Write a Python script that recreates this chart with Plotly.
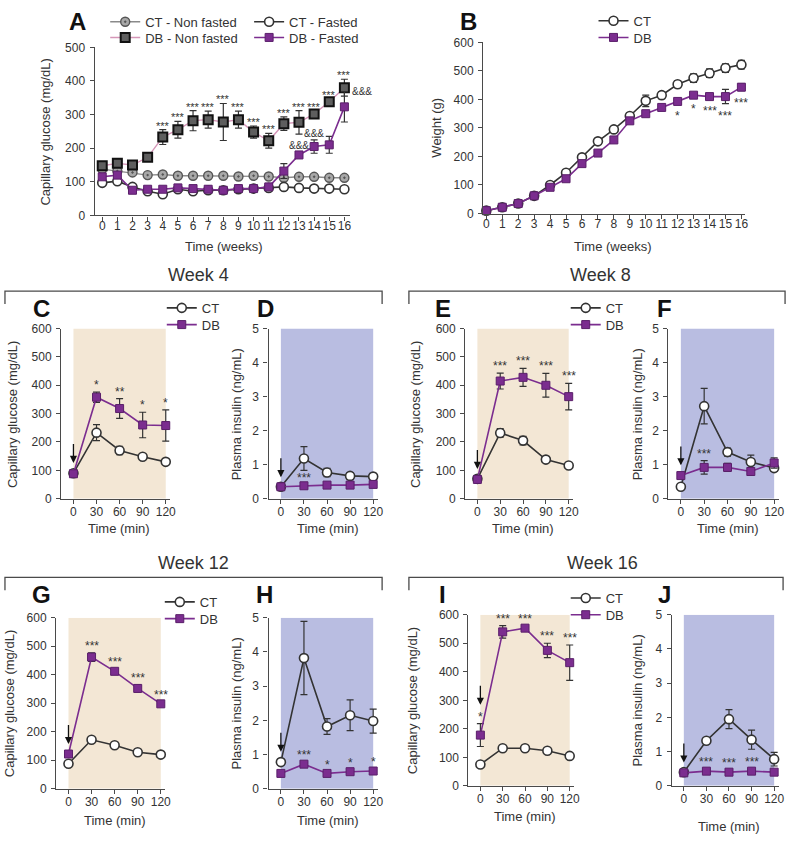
import plotly.graph_objects as go

# ---------------- data ----------------
weeks = list(range(17))
week_ticks = [str(w) for w in weeks]

# Panel A: capillary glucose (mg/dL) over 16 weeks
a_ct_nf = [138, 132, 128, 120, 122, 118, 118, 118, 118, 116, 118, 116, 112, 115, 115, 112, 112]
a_ct_nf_err = [6, 6, 5, 4, 4, 4, 4, 4, 4, 4, 4, 4, 4, 4, 4, 4, 4]
a_ct_f = [97, 102, 85, 72, 63, 78, 72, 75, 75, 78, 80, 82, 85, 82, 80, 80, 78]
a_ct_f_err = [5, 5, 4, 4, 4, 4, 4, 4, 4, 4, 4, 4, 4, 4, 4, 4, 4]
a_db_nf = [148, 155, 150, 173, 233, 255, 282, 285, 278, 285, 248, 222, 273, 277, 302, 338, 380]
a_db_nf_err = [8, 8, 8, 8, 22, 25, 30, 25, 55, 25, 18, 22, 20, 35, 8, 8, 25]
a_db_f = [115, 120, 75, 78, 78, 82, 80, 78, 75, 80, 80, 85, 132, 180, 205, 210, 323]
a_db_f_err = [8, 8, 4, 4, 4, 4, 4, 4, 4, 4, 4, 4, 22, 8, 20, 25, 45]
a_stars = ["", "", "", "", "***", "***", "***", "***", "***", "***", "***", "***", "***", "***", "***", "***", "***"]
a_amps = ["", "", "", "", "", "", "", "", "", "", "", "", "", "&&&", "&&&", "", "&&&"]

# Panel B: weight (g)
b_ct = [10, 22, 35, 62, 100, 143, 197, 253, 295, 342, 395, 415, 453, 475, 492, 510, 522]
b_ct_err = [3, 3, 3, 3, 4, 5, 6, 6, 6, 8, 20, 12, 12, 15, 15, 15, 15]
b_db = [10, 22, 35, 62, 92, 122, 175, 212, 258, 325, 350, 372, 393, 415, 410, 410, 443]
b_db_err = [3, 3, 3, 3, 4, 5, 6, 6, 6, 8, 8, 8, 8, 8, 8, 25, 12]
b_stars = ["", "", "", "", "", "", "", "", "", "", "", "", "*", "*", "***", "***", "***"]

# OGTT panels
ogtt_time = [0, 30, 60, 90, 120]
ogtt_ticks = ["0", "30", "60", "90", "120"]

c_ct = [90, 233, 170, 148, 130]
c_ct_err = [5, 28, 15, 5, 5]
c_db = [88, 358, 318, 260, 258]
c_db_err = [8, 18, 35, 45, 55]
c_stars = ["", "*", "**", "*", "*"]

d_ct = [0.35, 1.18, 0.77, 0.67, 0.65]
d_ct_err = [0.03, 0.35, 0.12, 0.10, 0.05]
d_db = [0.35, 0.38, 0.40, 0.40, 0.42]
d_db_err = [0.03, 0.03, 0.03, 0.03, 0.03]
d_stars = ["", "***", "", "", ""]

e_ct = [70, 232, 205, 138, 117]
e_ct_err = [5, 15, 15, 5, 5]
e_db = [68, 415, 428, 400, 360]
e_db_err = [5, 28, 32, 42, 47]
e_stars = ["", "***", "***", "***", "***"]

f_ct = [0.35, 2.72, 1.37, 1.08, 0.90]
f_ct_err = [0.05, 0.52, 0.12, 0.20, 0.10]
f_db = [0.68, 0.92, 0.92, 0.80, 1.05]
f_db_err = [0.05, 0.20, 0.12, 0.05, 0.15]
f_stars = ["", "***", "", "", ""]

g_ct = [88, 172, 153, 128, 120]
g_ct_err = [5, 5, 8, 5, 5]
g_db = [122, 462, 412, 352, 298]
g_db_err = [5, 15, 8, 12, 5]
g_stars = ["", "***", "***", "***", "***"]

h_ct = [0.78, 3.82, 1.82, 2.15, 1.98]
h_ct_err = [0.05, 1.07, 0.23, 0.45, 0.35]
h_db = [0.45, 0.72, 0.45, 0.50, 0.52]
h_db_err = [0.05, 0.05, 0.05, 0.05, 0.05]
h_stars = ["", "***", "*", "*", "*"]

i_ct = [75, 132, 132, 123, 105]
i_ct_err = [5, 5, 5, 5, 8]
i_db = [178, 540, 553, 475, 432]
i_db_err = [40, 22, 8, 25, 62]
i_stars = ["*", "***", "***", "***", "***"]

j_ct = [0.40, 1.32, 1.95, 1.35, 0.78]
j_ct_err = [0.03, 0.05, 0.28, 0.28, 0.20]
j_db = [0.38, 0.43, 0.40, 0.43, 0.40]
j_db_err = [0.05, 0.05, 0.05, 0.05, 0.05]
j_stars = ["", "***", "***", "***", ""]

glucose_ticks = [0, 100, 200, 300, 400, 500, 600]
glucose_a_ticks = [0, 100, 200, 300, 400, 500]
insulin_ticks = [0, 1, 2, 3, 4, 5]

# ---------------- styling ----------------
W, H = 800, 844
FONT = "Arial, Liberation Sans, Helvetica, sans-serif"
DARK = "#333333"
AXIS = "#4a4a4a"
PURPLE = "#7b2d8f"
BEIGE = "#f3e7d5"
LAVENDER = "#b9bde1"

fig = go.Figure()
layout = {}


def ax_id(n):
    return "" if n == 1 else str(n)


def add_axes(n, xcal, ycal, xrange, yrange, xticks, xticktext, yticks, xstand):
    (xv0, xp0), (xv1, xp1) = xcal
    (yv0, yp0), (yv1, yp1) = ycal
    sx = (xp1 - xp0) / (xv1 - xv0)
    sy = (yp0 - yp1) / (yv1 - yv0)
    left = xp0 + (xrange[0] - xv0) * sx
    right = xp0 + (xrange[1] - xv0) * sx
    bottom = yp0 - (yrange[0] - yv0) * sy
    top = yp0 - (yrange[1] - yv0) * sy
    common = dict(showline=True, linecolor=AXIS, linewidth=1.3, ticks="outside",
                  ticklen=4, tickwidth=1.2, tickcolor=AXIS, showgrid=False,
                  zeroline=False, tickfont=dict(size=12, color=DARK, family=FONT),
                  fixedrange=True, tickangle=0)
    layout["xaxis" + ax_id(n)] = dict(common, domain=[left / W, right / W], range=xrange,
                                      anchor="y" + ax_id(n), tickvals=xticks,
                                      ticktext=xticktext, ticklabelstandoff=xstand)
    layout["yaxis" + ax_id(n)] = dict(common, domain=[1 - bottom / H, 1 - top / H],
                                      range=yrange, anchor="x" + ax_id(n), tickvals=yticks,
                                      ticklabelstandoff=2)


legend_count = [0]


def new_legend(xpx, ypx):
    legend_count[0] += 1
    k = legend_count[0]
    name = "legend" if k == 1 else f"legend{k}"
    layout[name] = dict(x=xpx / W, y=1 - ypx / H, xanchor="left", yanchor="middle",
                        bgcolor="rgba(0,0,0,0)", borderwidth=0, itemwidth=30,
                        font=dict(size=13, color=DARK, family=FONT),
                        itemclick=False, itemdoubleclick=False)
    return name


def trace(n, x, y, err, name, line, marker, legend_pos=None):
    kw = {}
    if legend_pos is not None:
        kw["legend"] = new_legend(*legend_pos)
        kw["showlegend"] = True
    else:
        kw["showlegend"] = False
    fig.add_trace(go.Scatter(
        x=x, y=y, name=name, mode="lines+markers",
        line=line, marker=marker, cliponaxis=False,
        error_y=dict(type="data", array=err, visible=True, color=DARK,
                     thickness=1.2, width=3.5),
        xaxis="x" + ax_id(n), yaxis="y" + ax_id(n), **kw))


CT_LINE = dict(color=DARK, width=1.6)
CT_MARK = dict(symbol="circle", size=9, color="white", line=dict(color=DARK, width=1.6))
DB_LINE = dict(color=PURPLE, width=1.6)
DB_MARK = dict(symbol="square", size=8, color=PURPLE, line=dict(color="#5a1f6a", width=1))

# ---- Panel A ----
add_axes(1, ((0, 103), (16, 347)), ((0, 212), (500, 41)), [-0.5, 16.4], [0, 500],
         weeks, week_ticks, glucose_a_ticks, -5)
trace(1, weeks, a_ct_nf, a_ct_nf_err, "CT - Non fasted", dict(color="#8a8a8a", width=1.4),
      dict(symbol="circle-dot", size=9, color="#a8a8a8", line=dict(color="#555555", width=1.4)),
      (106, 15))
trace(1, weeks, a_ct_f, a_ct_f_err, "CT - Fasted", CT_LINE, CT_MARK, (251, 15))
trace(1, weeks, a_db_nf, a_db_nf_err, "DB - Non fasted", dict(color="#d596b8", width=1.4),
      dict(symbol="square", size=9, color="#5e5e5e", line=dict(color="#111111", width=2)),
      (106, 31))
trace(1, weeks, a_db_f, a_db_f_err, "DB - Fasted", DB_LINE, DB_MARK, (251, 31))
for w, s in zip(weeks, a_stars):
    if s:
        fig.add_annotation(x=w, y=a_db_nf[w] + a_db_nf_err[w], xref="x", yref="y", text=s,
                           showarrow=False, yanchor="bottom", yshift=-4,
                           font=dict(size=11, color=DARK, family=FONT))
for w, s in zip(weeks, a_amps):
    if s:
        last = w == weeks[-1]
        fig.add_annotation(x=w, y=a_db_f[w] + a_db_f_err[w], xref="x", yref="y", text=s,
                           showarrow=False, yanchor="middle" if last else "bottom",
                           xanchor="left" if last else "center",
                           xshift=6 if last else 0, yshift=0 if last else -1,
                           font=dict(size=10, color=DARK, family=FONT))

# ---- Panel B ----
add_axes(2, ((0, 490), (16, 747)), ((0, 210), (600, 36)), [-0.2, 16.25], [0, 600],
         weeks, week_ticks, glucose_ticks, -5)
trace(2, weeks, b_ct, b_ct_err, "CT", CT_LINE, CT_MARK, (598, 14))
trace(2, weeks, b_db, b_db_err, "DB", DB_LINE, DB_MARK, (598, 31))
for w, s in zip(weeks, b_stars):
    if s:
        fig.add_annotation(x=w, y=b_db[w] - b_db_err[w], xref="x2", yref="y2", text=s,
                           showarrow=False, yanchor="top", yshift=-3,
                           font=dict(size=12, color=DARK, family=FONT))

# ---- OGTT panels ----
ogtt = [
    # n, ct, ct_err, db, db_err, stars, xcal, ycal, yrange, yticks, shade, legend
    (3, c_ct, c_ct_err, c_db, c_db_err, c_stars, ((0, 74), (120, 167)), ((0, 500), (600, 327)), [0, 600], glucose_ticks, BEIGE, (163, 306)),
    (4, d_ct, d_ct_err, d_db, d_db_err, d_stars, ((0, 283), (120, 376)), ((0, 500), (5, 327)), [0, 5], insulin_ticks, LAVENDER, None),
    (5, e_ct, e_ct_err, e_db, e_db_err, e_stars, ((0, 481), (120, 573)), ((0, 500), (600, 327)), [0, 600], glucose_ticks, BEIGE, (570, 306)),
    (6, f_ct, f_ct_err, f_db, f_db_err, f_stars, ((0, 686), (120, 780)), ((0, 500), (5, 327)), [0, 5], insulin_ticks, LAVENDER, None),
    (7, g_ct, g_ct_err, g_db, g_db_err, g_stars, ((0, 69), (120, 162)), ((0, 795), (600, 621)), [0, 600], glucose_ticks, BEIGE, (161, 605)),
    (8, h_ct, h_ct_err, h_db, h_db_err, h_stars, ((0, 283), (120, 376)), ((0, 795), (5, 621)), [0, 5], insulin_ticks, LAVENDER, None),
    (9, i_ct, i_ct_err, i_db, i_db_err, i_stars, ((0, 484), (120, 574)), ((0, 792), (600, 618)), [0, 600], glucose_ticks, BEIGE, (570, 601)),
    (10, j_ct, j_ct_err, j_db, j_db_err, j_stars, ((0, 689), (120, 780)), ((0, 792), (5, 618)), [0, 5], insulin_ticks, LAVENDER, None),
]

shapes = []
for n, ct, cte, db, dbe, stars, xcal, ycal, yr, yt, shade, leg in ogtt:
    add_axes(n, xcal, ycal, [-16, 126], yr, ogtt_time, ogtt_ticks, yt, -2)
    xr, yrf = "x" + ax_id(n), "y" + ax_id(n)
    shapes.append(dict(type="rect", xref=xr, yref=yrf, x0=ogtt_time[0], x1=ogtt_time[-1],
                       y0=yr[0], y1=yr[1], fillcolor=shade, line=dict(width=0), layer="below"))
    trace(n, ogtt_time, ct, cte, "CT", CT_LINE, CT_MARK, leg)
    trace(n, ogtt_time, db, dbe, "DB", DB_LINE, DB_MARK,
          None if leg is None else (leg[0], leg[1] + 17))
    span = yr[1] - yr[0]
    top0 = max(ct[0] + cte[0], db[0] + dbe[0])
    if stars[0]:
        top0 += 0.06 * span
    fig.add_annotation(x=ogtt_time[0], y=top0 + 0.05 * span, ax=ogtt_time[0],
                       ay=top0 + 0.17 * span, xref=xr, yref=yrf, axref=xr, ayref=yrf,
                       text="", showarrow=True, arrowhead=2, arrowsize=1.1,
                       arrowwidth=1.3, arrowcolor="#111111")
    for t, v, e, s in zip(ogtt_time, db, dbe, stars):
        if s:
            fig.add_annotation(x=t, y=v + e, xref=xr, yref=yrf, text=s, showarrow=False,
                               yanchor="bottom", yshift=-2,
                               font=dict(size=12, color=DARK, family=FONT))

# ---------------- texts ----------------
def ptext(xpx, ypx, text, size, bold=False, angle=0):
    fig.add_annotation(x=xpx / W, y=1 - ypx / H, xref="paper", yref="paper", text=text,
                       showarrow=False, xanchor="center", yanchor="middle",
                       textangle=angle,
                       font=dict(size=size, color="#111111" if bold else DARK, family=FONT,
                                 weight="bold" if bold else "normal"))

for letter, xp, yp in [("A", 78, 15), ("B", 472, 15), ("C", 42, 307), ("D", 268, 307),
                       ("E", 446, 307), ("F", 670, 307), ("G", 42, 597), ("H", 267, 597),
                       ("I", 446, 597), ("J", 670, 597)]:
    ptext(xp, yp, letter, 24, bold=True)

for title, xp, yp in [("Week 4", 200, 273), ("Week 8", 605, 273),
                      ("Week 12", 195, 565), ("Week 16", 607, 565)]:
    ptext(xp, yp, title, 18)

# axis titles
gl = "Capillary glucose (mg/dL)"
ins = "Plasma insulin (ng/mL)"
for text, xp, yp in [(gl, 46, 127), ("Weight (g)", 440, 123),
                     (gl, 12, 414), (ins, 238, 414), (gl, 418, 414), (ins, 642, 414),
                     (gl, 9, 708), (ins, 238, 708), (gl, 415, 705), (ins, 642, 705)]:
    ptext(xp, yp, text, 13, angle=-90)
for text, xp, yp in [("Time (weeks)", 226, 244), ("Time (weeks)", 618, 244),
                     ("Time (min)", 120, 530), ("Time (min)", 330, 530),
                     ("Time (min)", 527, 530), ("Time (min)", 733, 530),
                     ("Time (min)", 116, 827), ("Time (min)", 330, 827),
                     ("Time (min)", 529, 823), ("Time (min)", 735, 833)]:
    ptext(xp, yp, text, 13)

# brackets under week titles
for x0, x1, yl, yd in [(5, 385, 289, 302), (412, 791, 289, 302),
                       (5, 385, 580, 593), (412, 789, 580, 593)]:
    shapes.append(dict(type="path", xref="paper", yref="paper",
                       path=f"M {x0/W},{1-yd/H} L {x0/W},{1-yl/H} L {x1/W},{1-yl/H} L {x1/W},{1-yd/H}",
                       line=dict(color=AXIS, width=1.3)))

layout["shapes"] = shapes
fig.update_layout(**layout)
fig.update_layout(width=W, height=H, margin=dict(l=0, r=0, t=0, b=0),
                  paper_bgcolor="white", plot_bgcolor="rgba(0,0,0,0)",
                  font=dict(family=FONT, color=DARK))

fig.write_html("out.html", config={"displayModeBar": False},
               post_script="document.body.style.margin='0';document.body.style.overflow='hidden';")
